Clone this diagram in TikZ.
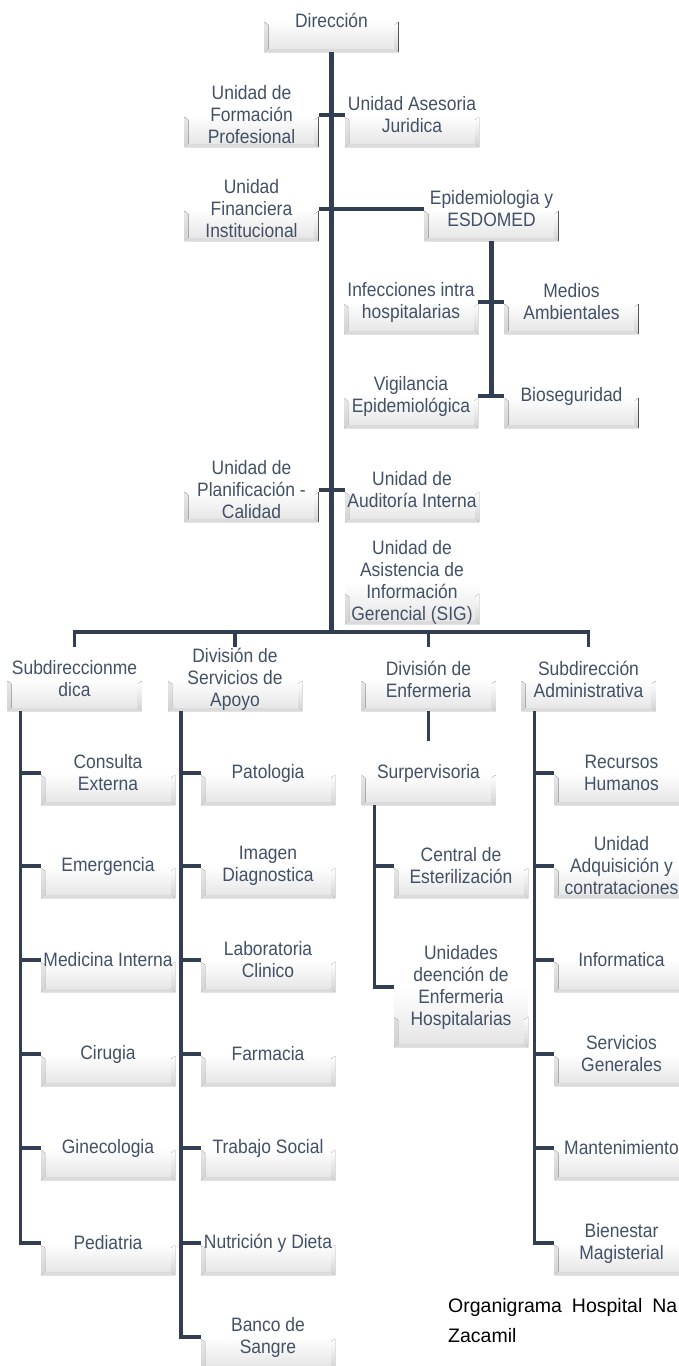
\documentclass[tikz,border=0pt]{standalone}
\usepackage{fontspec}
\setmainfont{Liberation Sans}
\newfontfamily\boxfont{Liberation Sans}[FakeStretch=0.9]
\definecolor{linec}{HTML}{323F52}
\definecolor{txtc}{HTML}{435166}
\definecolor{boxlow}{HTML}{E4E4E4}
\definecolor{bevel}{HTML}{D2D2D2}
\tikzset{
  orgbox/.style={minimum width=134pt, minimum height=64pt, inner sep=0pt,
    align=center, text=txtc, font=\boxfont\fontsize{19.4}{22}\selectfont,
    top color=white, bottom color=boxlow, middle color=white,
    path picture={
      % side and bottom bevels
      \fill[top color=white, bottom color=bevel]
        ([yshift=30pt]path picture bounding box.south west) --
        (path picture bounding box.south west) --
        ([xshift=4pt,yshift=3pt]path picture bounding box.south west) --
        ([xshift=4pt,yshift=27pt]path picture bounding box.south west) -- cycle;
      \fill[top color=white, bottom color=bevel]
        ([yshift=30pt]path picture bounding box.south east) --
        (path picture bounding box.south east) --
        ([xshift=-4pt,yshift=3pt]path picture bounding box.south east) --
        ([xshift=-4pt,yshift=27pt]path picture bounding box.south east) -- cycle;
      \fill[bevel!50!boxlow]
        (path picture bounding box.south west) --
        (path picture bounding box.south east) --
        ([xshift=-4pt,yshift=3pt]path picture bounding box.south east) --
        ([xshift=4pt,yshift=3pt]path picture bounding box.south west) -- cycle;
    }},
  trunk/.style={draw=linec, line width=5pt},
  stub/.style={draw=linec, line width=4pt},
  branch/.style={draw=linec, line width=3.5pt, line join=miter},
  caption/.style={anchor=base west, inner sep=0pt, text=black,
    font=\fontsize{19.5}{30}\selectfont},
}
\begin{document}
\begin{tikzpicture}[x=1pt, y=-1pt]
\useasboundingbox (0,0) rectangle (678,1366);

% upper staff units
\node[orgbox] (dir)  at (331.5,20)  {Dirección};
\node[orgbox] (form) at (251.5,115) {Unidad de\\Formación\\Profesional};
\node[orgbox] (ases) at (412,115)   {Unidad Asesoria\\Juridica};
\node[orgbox] (fin)  at (251.5,209) {Unidad\\Financiera\\Institucional};
\node[orgbox] (epi)  at (491.5,209) {Epidemiologia y\\ESDOMED};
\node[orgbox] (inf)  at (411,302)   {Infecciones intra\\hospitalarias};
\node[orgbox] (med)  at (571.5,302) {Medios\\Ambientales};
\node[orgbox] (vig)  at (411,396)   {Vigilancia\\Epidemiológica};
\node[orgbox] (bio)  at (571.5,396) {Bioseguridad};
\node[orgbox] (plan) at (251.5,490) {Unidad de\\Planificación -\\Calidad};
\node[orgbox] (aud)  at (412,490)   {Unidad de\\Auditoría Interna};
\node[orgbox] (sig)  at (412,582)   {Unidad de\\Asistencia de\\Información\\Gerencial (SIG)};

% divisions
\node[orgbox] (subm) at (74.5,679)  {Subdireccionme\\dica};
\node[orgbox] (apo)  at (235,679)   {División de\\Servicios de\\Apoyo};
\node[orgbox] (enf)  at (428.5,679) {División de\\Enfermeria};
\node[orgbox] (adm)  at (588.5,679) {Subdirección\\Administrativa};

% medical services
\node[orgbox] (cons) at (108,773)  {Consulta\\Externa};
\node[orgbox] (emer) at (108,866)  {Emergencia};
\node[orgbox] (medi) at (108,960)  {Medicina Interna};
\node[orgbox] (ciru) at (108,1054) {Cirugia};
\node[orgbox] (gine) at (108,1148) {Ginecologia};
\node[orgbox] (pedi) at (108,1243) {Pediatria};

% support services
\node[orgbox] (pato) at (268,773)  {Patologia};
\node[orgbox] (imag) at (268,866)  {Imagen\\Diagnostica};
\node[orgbox] (labo) at (268,960)  {Laboratoria\\Clinico};
\node[orgbox] (farm) at (268,1054) {Farmacia};
\node[orgbox] (trab) at (268,1148) {Trabajo Social};
\node[orgbox] (nutr) at (268,1243) {Nutrición y Dieta};
\node[orgbox] (banc) at (268,1337) {Banco de\\Sangre};

% nursing
\node[orgbox] (sup)  at (428.5,773) {Surpervisoria};
\node[orgbox] (cent) at (461,866)   {Central de\\Esterilización};
\node[orgbox, minimum height=120pt] (unid) at (461,987) {Unidades\\deención de\\Enfermeria\\Hospitalarias};

% administration
\node[orgbox] (recu) at (621.5,773)  {Recursos\\Humanos};
\node[orgbox] (adqu) at (621.5,866)  {Unidad\\Adquisición y\\contrataciones};
\node[orgbox] (info) at (621.5,960)  {Informatica};
\node[orgbox] (serv) at (621.5,1054) {Servicios\\Generales};
\node[orgbox] (mant) at (621.5,1148) {Mantenimiento};
\node[orgbox] (bien) at (621.5,1243) {Bienestar\\Magisterial};

% main trunk and bus
\coordinate (bus) at (331.5,632);
\draw[trunk] (dir.south) -- (bus);
\draw[stub] (form.east) -- (ases.west);
\draw[stub] (fin.east) -- (epi.west);
\draw[stub] (plan.east) -- (aud.west);

% epidemiology branch
\coordinate (epiend) at (491.5,396);
\draw[trunk] (epi.south) -- (epiend);
\draw[stub] (inf.east) -- (med.west);
\draw[stub] (vig.east) -- (bio.west);

% division bus
\draw[branch] (subm.north) |- (bus) -| (adm.north);
\draw[branch] (apo.north) -- (apo.north |- bus);
\draw[branch] (enf.north) -- (enf.north |- bus);

% column connectors
\coordinate (c1) at ([xshift=13pt]subm.south west);
\draw[branch] (c1) |- (pedi.west);
\foreach \n in {cons,emer,medi,ciru,gine} \draw[branch] (c1 |- \n.west) -- (\n.west);

\coordinate (c2) at ([xshift=13pt]apo.south west);
\draw[branch] (c2) |- (banc.west);
\foreach \n in {pato,imag,labo,farm,trab,nutr} \draw[branch] (c2 |- \n.west) -- (\n.west);

\draw[branch] (enf.south) -- (sup.north);
\coordinate (c3) at ([xshift=13pt]sup.south west);
\draw[branch] (c3) |- (unid.west);
\draw[branch] (c3 |- cent.west) -- (cent.west);

\coordinate (c4) at ([xshift=13pt]adm.south west);
\draw[branch] (c4) |- (bien.west);
\foreach \n in {recu,adqu,info,serv,mant} \draw[branch] (c4 |- \n.west) -- (\n.west);

% caption
\node[caption] (cap1) at (448,1312) {Organigrama\hspace{10pt}Hospital\hspace{10pt}Na};
\node[caption] (cap2) at (448,1342) {Zacamil};
\end{tikzpicture}
\end{document}
